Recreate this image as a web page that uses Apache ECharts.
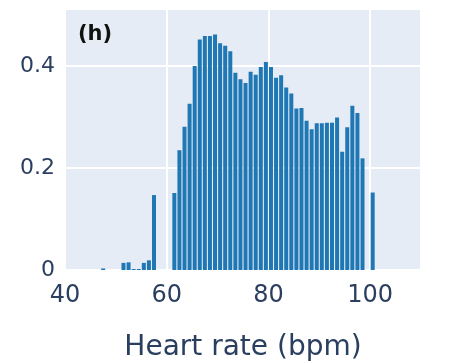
<!DOCTYPE html>
<html>
<head>
<meta charset="utf-8">
<script src="https://cdn.jsdelivr.net/npm/echarts@6/dist/echarts.min.js"></script>
<style>
html,body{margin:0;padding:0;background:#fff;}
#chart{width:449px;height:363px;}
</style>
</head>
<body>
<div id="chart"></div>
<script>
// Histogram bins (left edge, bpm) and their normalized frequencies
var binStarts = [47, 51, 52, 53, 54, 55, 56, 57,
  61, 62, 63, 64, 65, 66, 67, 68, 69, 70,
  71, 72, 73, 74, 75, 76, 77, 78, 79, 80,
  81, 82, 83, 84, 85, 86, 87, 88, 89, 90,
  91, 92, 93, 94, 95, 96, 97, 98, 100];
var frequencies = [0.003, 0.014, 0.015, 0.002, 0.002, 0.014, 0.019, 0.147,
  0.151, 0.235, 0.281, 0.326, 0.400, 0.452, 0.459, 0.459, 0.462, 0.445,
  0.440, 0.429, 0.387, 0.374, 0.367, 0.389, 0.383, 0.398, 0.408, 0.398,
  0.377, 0.382, 0.358, 0.346, 0.317, 0.318, 0.293, 0.276, 0.288, 0.288,
  0.289, 0.289, 0.299, 0.232, 0.280, 0.322, 0.308, 0.219, 0.152];
var binWidth = 1;
var xTicks = [40, 60, 80, 100];
var yTicks = [0, 0.2, 0.4];
var panelLabel = '(h)';
var xTitle = 'Heart rate (bpm)';

var seriesData = binStarts.map(function (s, i) { return [s + binWidth / 2, frequencies[i]]; });

var chart = echarts.init(document.getElementById('chart'), null, {renderer: 'canvas'});
var font = 'DejaVu Sans';
chart.setOption({
  animation: false,
  backgroundColor: '#ffffff',
  title: {
    text: panelLabel,
    left: 73, top: 19,
    textStyle: {fontFamily: font, fontWeight: 'bold', fontSize: 21, color: '#111111'}
  },
  grid: {
    left: 65, right: 28, top: 9, bottom: 93,
    outerBoundsMode: 'none',
    containLabel: false,
    show: true, backgroundColor: '#E5ECF6', borderWidth: 0
  },
  xAxis: {
    type: 'value',
    min: 40, max: 110, interval: 20,
    name: xTitle,
    nameLocation: 'middle',
    nameGap: 64,
    nameTextStyle: {fontFamily: font, fontSize: 28, color: '#2a3f5f'},
    axisLine: {show: false},
    axisTick: {show: false},
    splitLine: {show: true, lineStyle: {color: '#ffffff', width: 2}},
    axisLabel: {
      fontFamily: font, fontSize: 24, color: '#2a3f5f', margin: 14,
      showMaxLabel: false,
      formatter: function (v) { return xTicks.indexOf(v) >= 0 ? String(v) : ''; }
    }
  },
  yAxis: {
    type: 'value',
    min: 0, max: 0.512, interval: 0.2,
    axisLine: {show: false},
    axisTick: {show: false},
    splitLine: {show: true, lineStyle: {color: '#ffffff', width: 2}},
    axisLabel: {
      fontFamily: font, fontSize: 22, color: '#2a3f5f', margin: 10,
      showMaxLabel: false,
      formatter: function (v) {
        for (var i = 0; i < yTicks.length; i++) {
          if (Math.abs(v - yTicks[i]) < 1e-6) return String(yTicks[i]);
        }
        return '';
      }
    }
  },
  series: [{
    type: 'bar',
    data: seriesData,
    barWidth: 4,
    itemStyle: {color: '#1f77b4'},
    emphasis: {disabled: true}
  }]
});
</script>
</body>
</html>
